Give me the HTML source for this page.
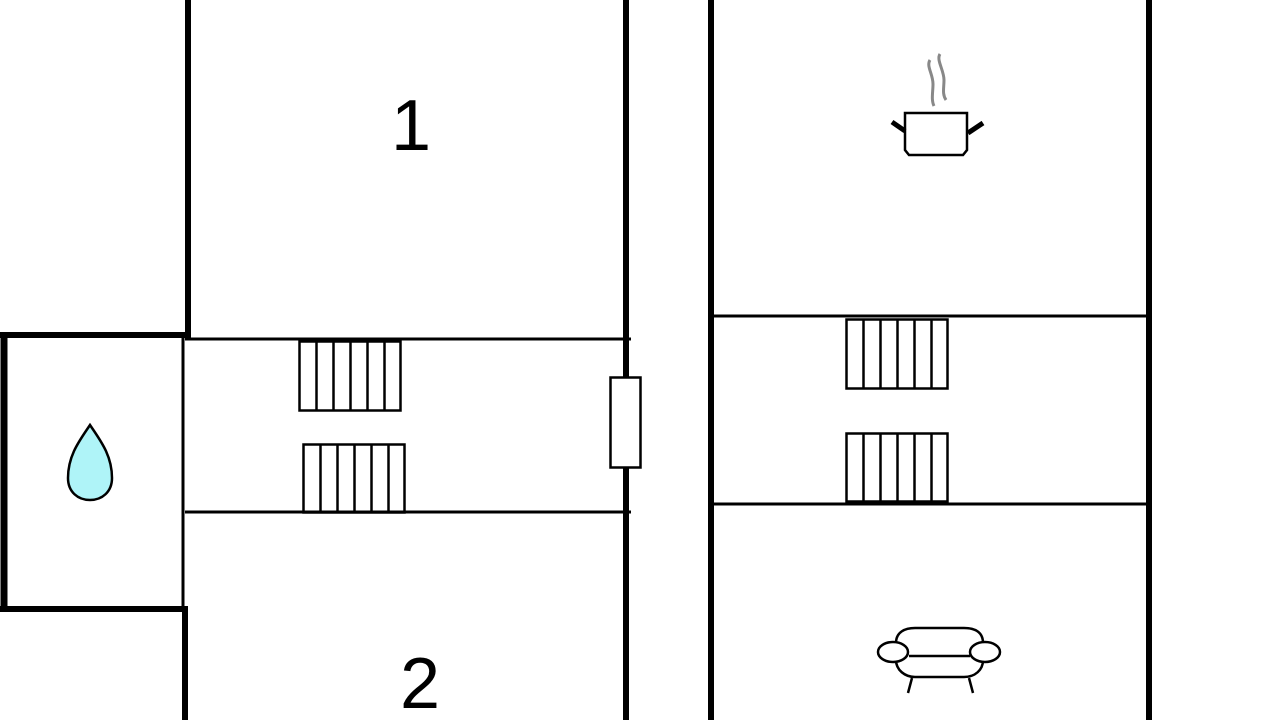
<!DOCTYPE html>
<html><head><style>html,body{margin:0;padding:0;background:#fff}svg{display:block}</style></head>
<body>
<svg width="1280" height="720" viewBox="0 0 1280 720" xmlns="http://www.w3.org/2000/svg">
<rect width="1280" height="720" fill="#fff"/>
<g stroke="#000" fill="none" stroke-linecap="butt">
<line x1="188" y1="0" x2="188" y2="338" stroke-width="6"/>
<line x1="0" y1="335" x2="191" y2="335" stroke-width="6"/>
<line x1="4" y1="332" x2="4" y2="612" stroke-width="7"/>
<line x1="0" y1="609" x2="188" y2="609" stroke-width="6"/>
<line x1="183" y1="338" x2="183" y2="606" stroke-width="3"/>
<line x1="185" y1="606" x2="185" y2="720" stroke-width="6"/>
<line x1="185" y1="339" x2="631" y2="339" stroke-width="3"/>
<line x1="185" y1="512" x2="631" y2="512" stroke-width="3"/>
<line x1="626" y1="0" x2="626" y2="720" stroke-width="6"/>
<rect x="610.5" y="377.5" width="30" height="90" fill="#fff" stroke-width="2.5"/>
<line x1="711" y1="0" x2="711" y2="720" stroke-width="6"/>
<line x1="1149" y1="0" x2="1149" y2="720" stroke-width="6"/>
<line x1="711" y1="316" x2="1147" y2="316" stroke-width="3"/>
<line x1="711" y1="504" x2="1147" y2="504" stroke-width="3"/>
<g stroke-width="2.5">
<rect x="299.5" y="341.5" width="101" height="69"/>
<path d="M316.5 341v70M333.5 341v70M350.5 341v70M367.5 341v70M384.5 341v70"/>
<rect x="303.5" y="444.5" width="101" height="68"/>
<path d="M320.5 444v69M337.5 444v69M354.5 444v69M371.5 444v69M388.5 444v69"/>
<rect x="846.5" y="319.5" width="101" height="69"/>
<path d="M863.5 319v70M880.5 319v70M897.5 319v70M914.5 319v70M931.5 319v70"/>
<rect x="846.5" y="433.5" width="101" height="68"/>
<path d="M863.5 433v69M880.5 433v69M897.5 433v69M914.5 433v69M931.5 433v69"/>
</g>
<path d="M90 425 C80 440 68 455 68 478 C68 492 78 500 90 500 C102 500 112 492 112 478 C112 455 100 440 90 425 Z" fill="#aff4f8" stroke-width="2.5"/>
<path d="M930 60 C926 66 933 74 933 84 C933 92 931 100 934 106" stroke="#888" stroke-width="3"/>
<path d="M940 54 C936 60 944 70 944 80 C944 88 942 94 946 100" stroke="#888" stroke-width="3"/>
<path d="M905 113 H967 V150 L963 155 H909 L905 150 Z" stroke-width="2.5"/>
<path d="M892 122 L905 131 M983 123 L968 133" stroke-width="5"/>
<path d="M896 643 C896 632 905 628 915 628 H964 C975 628 983 632 983 643" stroke-width="2.5"/>
<path d="M896 660 C896 670 905 677 915 677 H964 C975 677 983 670 983 660" stroke-width="2.5"/>
<line x1="909" y1="656" x2="970" y2="656" stroke-width="2.5"/>
<ellipse cx="893" cy="652" rx="15" ry="10" fill="#fff" stroke-width="2.5"/>
<ellipse cx="985" cy="652" rx="15" ry="10" fill="#fff" stroke-width="2.5"/>
<path d="M912 678 L908 693 M969 678 L973 693" stroke-width="2.5"/>
</g>
<g font-family="Liberation Sans, sans-serif" font-size="72" text-anchor="middle" fill="#000">
<text x="411" y="150">1</text>
<text x="420" y="708">2</text>
</g>
</svg>
</body></html>
